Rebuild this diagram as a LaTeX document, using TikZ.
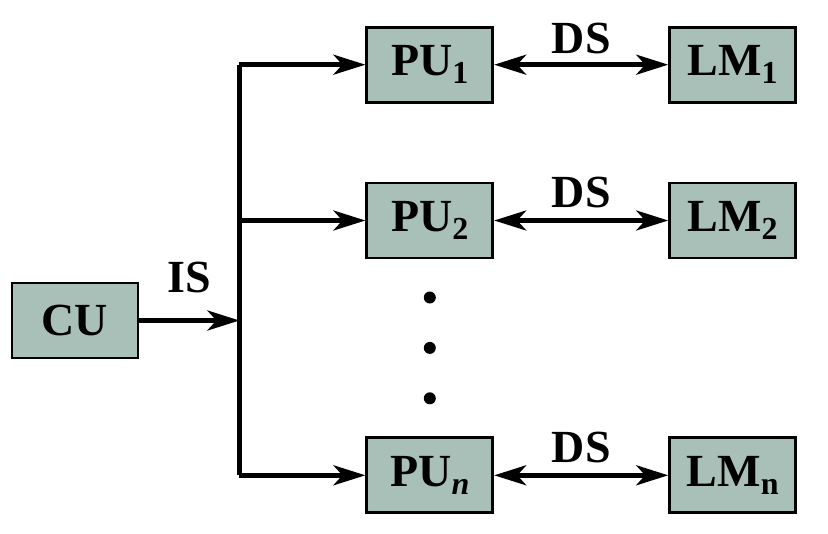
\documentclass[tikz,border=0pt]{standalone}
\usepackage{fontspec}
\setmainfont{Liberation Serif}[BoldFont={Liberation Serif Bold}, BoldItalicFont={Liberation Serif Bold Italic}]
\usetikzlibrary{positioning,arrows.meta,calc}
\definecolor{unitfill}{RGB}{168,192,184}
\tikzstyle{unit}=[draw, line width=1.4pt, fill=unitfill, minimum width=63pt, minimum height=37.5pt, inner sep=0pt, font=\fontsize{23}{27}\selectfont\bfseries]
\tikzstyle{connect}=[-{Stealth[length=16pt, width=10pt, inset=4.5pt]}, line width=2.2pt]
\tikzstyle{twoway}=[{Stealth[length=16pt, width=10pt, inset=4.5pt]}-{Stealth[length=16pt, width=10pt, inset=4.5pt]}, line width=2.2pt]
\tikzstyle{bus}=[line width=2.2pt]
\tikzstyle{lbl}=[font=\fontsize{23}{27}\selectfont\bfseries, inner sep=0pt]
\tikzstyle{vdot}=[circle, fill, inner sep=0pt, minimum size=6pt]
\newcommand{\lowsub}[1]{\raisebox{-4pt}{\fontsize{16}{16}\selectfont #1}}

\begin{document}
\begin{tikzpicture}[x=0.5pt, y=-0.5pt]

    \useasboundingbox (0,0) rectangle (828,534);

    % control unit and instruction bus
    \node[unit] (CU) at (75,320.5) {CU};
    \coordinate[right=50pt of CU] (IB);

    % processing units
    \node[unit, right=113pt of CU, yshift=50pt] (PU2) {PU\lowsub{2}};
    \node[unit, above=39pt of PU2] (PU1) {PU\lowsub{1}};
    \node[unit, below=88.5pt of PU2] (PUn) {PU\lowsub{\itshape n}};

    % local memories
    \node[unit, right=87pt of PU1] (LM1) {LM\lowsub{1}};
    \node[unit, right=87pt of PU2] (LM2) {LM\lowsub{2}};
    \node[unit, right=87pt of PUn] (LMn) {LM\lowsub{n}};

    % dots
    \coordinate (mid) at ($(PU2)!0.5!(PUn)$);
    \node[vdot, above=22pt of mid] (d1) {};
    \node[vdot] (d2) at (mid) {};
    \node[vdot, below=22pt of mid] (d3) {};

    % Connect the nodes
    \draw[bus] (IB |- PU1) -- (IB |- PUn);
    \path
        (CU) edge [connect] node[lbl, midway, yshift=21.5pt] (IS) {IS} (IB)
        (IB |- PU1) edge [connect] (PU1)
        (IB |- PU2) edge [connect] (PU2)
        (IB |- PUn) edge [connect] (PUn)
        (PU1) edge [twoway] node[lbl, midway, yshift=13pt] (DS1) {DS} (LM1)
        (PU2) edge [twoway] node[lbl, midway, yshift=14pt] (DS2) {DS} (LM2)
        (PUn) edge [twoway] node[lbl, midway, yshift=14pt] (DSn) {DS} (LMn)
        ;
\end{tikzpicture}
\end{document}
